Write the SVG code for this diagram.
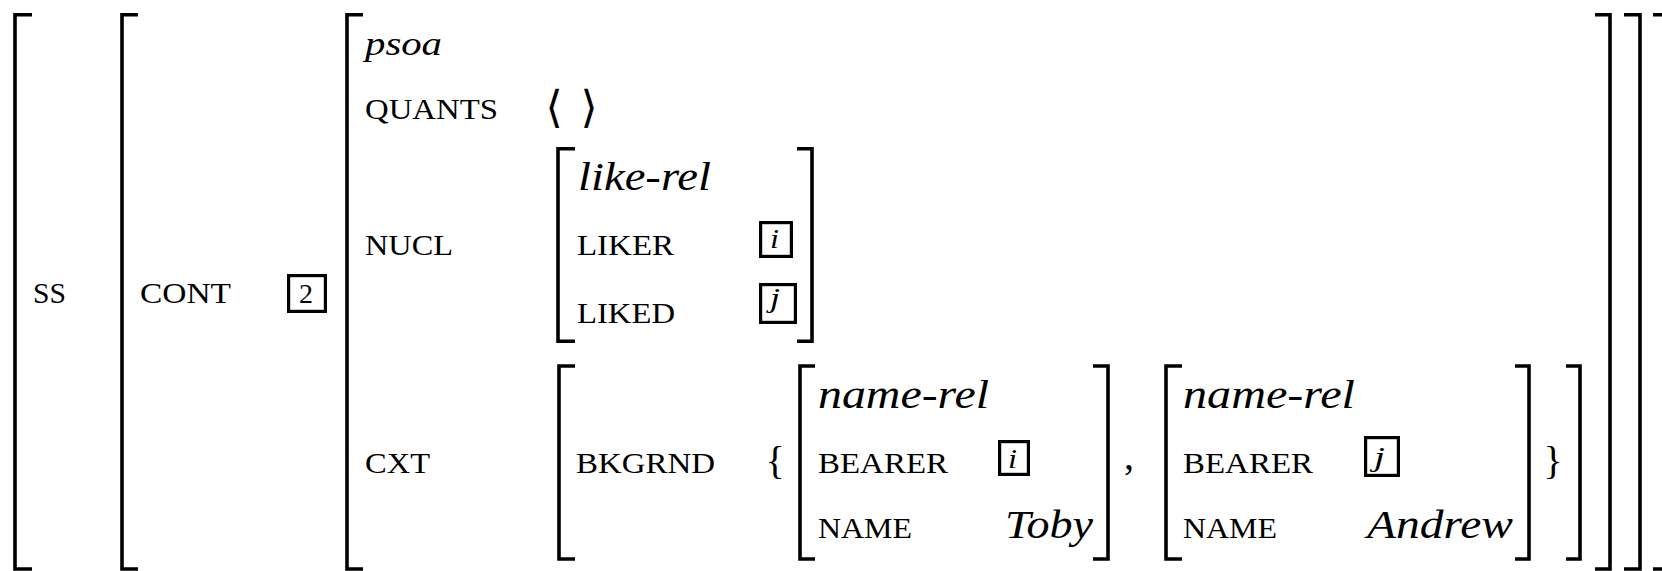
<svg xmlns="http://www.w3.org/2000/svg" width="1662" height="571" viewBox="0 0 1662 571">
<style>
.br{fill:none;stroke:#000;stroke-width:3.6;stroke-linejoin:miter;stroke-linecap:butt}
.box{fill:none;stroke:#000;stroke-width:3.2}
</style>
<rect width="1662" height="571" fill="#fff"/>

<g id="avm-outer">
  <path class="br" d="M32,14.8 H15 V569 H32"/>
  <path class="br" d="M1653,14.8 H1670 V569 H1653"/>
  <text font-family="Liberation Serif" font-size="30" x="33" y="303" textLength="33" lengthAdjust="spacingAndGlyphs">SS</text>
</g>

<g id="avm-ss">
  <path class="br" d="M138,14.8 H122 V569 H138"/>
  <path class="br" d="M1624,14.8 H1640 V569 H1624"/>
  <text font-family="Liberation Serif" font-size="30" x="140" y="303" textLength="91" lengthAdjust="spacingAndGlyphs">CONT</text>
  <rect class="box" x="288.6" y="275.6" width="36.8" height="35.8"/>
  <text font-family="Liberation Serif" font-size="27" x="299" y="303" textLength="14" lengthAdjust="spacingAndGlyphs">2</text>
</g>

<g id="avm-psoa">
  <path class="br" d="M363,14.8 H347 V569 H363"/>
  <path class="br" d="M1595,14.8 H1610 V569 H1595"/>
  <text font-family="Liberation Serif" font-style="italic" font-size="34" x="365" y="55" textLength="77" lengthAdjust="spacingAndGlyphs">psoa</text>
  <text font-family="Liberation Serif" font-size="30" x="365" y="119" textLength="133" lengthAdjust="spacingAndGlyphs">QUANTS</text>
  <text font-family="DejaVu Sans" font-size="44" text-anchor="middle" y="122"><tspan x="561">⟨</tspan> <tspan x="589">⟩</tspan></text>
  <text font-family="Liberation Serif" font-size="30" x="365" y="255" textLength="88" lengthAdjust="spacingAndGlyphs">NUCL</text>
  <text font-family="Liberation Serif" font-size="30" x="365" y="473" textLength="65" lengthAdjust="spacingAndGlyphs">CXT</text>
</g>

<g id="avm-like-rel">
  <path class="br" d="M575,148.8 H558 V341.2 H575"/>
  <path class="br" d="M797,148.8 H812 V341.2 H797"/>
  <text font-family="Liberation Serif" font-style="italic" font-size="39" x="578" y="190" textLength="133" lengthAdjust="spacingAndGlyphs">like-rel</text>
  <text font-family="Liberation Serif" font-size="30" x="577" y="255" textLength="97" lengthAdjust="spacingAndGlyphs">LIKER</text>
  <rect class="box" x="760.6" y="222.6" width="30.8" height="33.8"/>
  <text font-family="Liberation Serif" font-style="italic" font-size="28" x="770" y="248" textLength="9" lengthAdjust="spacingAndGlyphs">i</text>
  <text font-family="Liberation Serif" font-size="30" x="577" y="323" textLength="98" lengthAdjust="spacingAndGlyphs">LIKED</text>
  <rect class="box" x="760.6" y="284.6" width="34.8" height="37.8"/>
  <text font-family="Liberation Serif" font-style="italic" font-size="28" x="770" y="307" textLength="10" lengthAdjust="spacingAndGlyphs">j</text>
</g>

<g id="avm-cxt">
  <path class="br" d="M575,366 H559 V559 H575"/>
  <path class="br" d="M1566,366 H1580 V559 H1566"/>
  <text font-family="Liberation Serif" font-size="30" x="576" y="473" textLength="139" lengthAdjust="spacingAndGlyphs">BKGRND</text>
  <text font-family="Liberation Serif" font-size="40" text-anchor="middle" x="775" y="474">{</text>
  <text font-family="Liberation Serif" font-size="40" x="1124" y="469">,</text>
  <text font-family="Liberation Serif" font-size="40" text-anchor="middle" x="1553" y="474">}</text>
</g>

<g id="avm-name-rel-1">
  <path class="br" d="M815,366 H800 V559 H815"/>
  <path class="br" d="M1093,366 H1108 V559 H1093"/>
  <text font-family="Liberation Serif" font-style="italic" font-size="39" x="818" y="408" textLength="171" lengthAdjust="spacingAndGlyphs">name-rel</text>
  <text font-family="Liberation Serif" font-size="30" x="818" y="473" textLength="130" lengthAdjust="spacingAndGlyphs">BEARER</text>
  <rect class="box" x="999.6" y="441.6" width="28.8" height="32.8"/>
  <text font-family="Liberation Serif" font-style="italic" font-size="28" x="1008" y="468" textLength="9" lengthAdjust="spacingAndGlyphs">i</text>
  <text font-family="Liberation Serif" font-size="30" x="818" y="538" textLength="94" lengthAdjust="spacingAndGlyphs">NAME</text>
  <text font-family="Liberation Serif" font-style="italic" font-size="39" x="1005" y="538" textLength="88" lengthAdjust="spacingAndGlyphs">Toby</text>
</g>

<g id="avm-name-rel-2">
  <path class="br" d="M1182,366 H1166 V559 H1182"/>
  <path class="br" d="M1515,366 H1529 V559 H1515"/>
  <text font-family="Liberation Serif" font-style="italic" font-size="39" x="1183" y="408" textLength="172" lengthAdjust="spacingAndGlyphs">name-rel</text>
  <text font-family="Liberation Serif" font-size="30" x="1183" y="473" textLength="130" lengthAdjust="spacingAndGlyphs">BEARER</text>
  <rect class="box" x="1365.6" y="437.6" width="32.8" height="37.8"/>
  <text font-family="Liberation Serif" font-style="italic" font-size="28" x="1374" y="466" textLength="11" lengthAdjust="spacingAndGlyphs">j</text>
  <text font-family="Liberation Serif" font-size="30" x="1183" y="538" textLength="94" lengthAdjust="spacingAndGlyphs">NAME</text>
  <text font-family="Liberation Serif" font-style="italic" font-size="39" x="1367" y="538" textLength="146" lengthAdjust="spacingAndGlyphs">Andrew</text>
</g>

<g id="connectors"></g>
</svg>
